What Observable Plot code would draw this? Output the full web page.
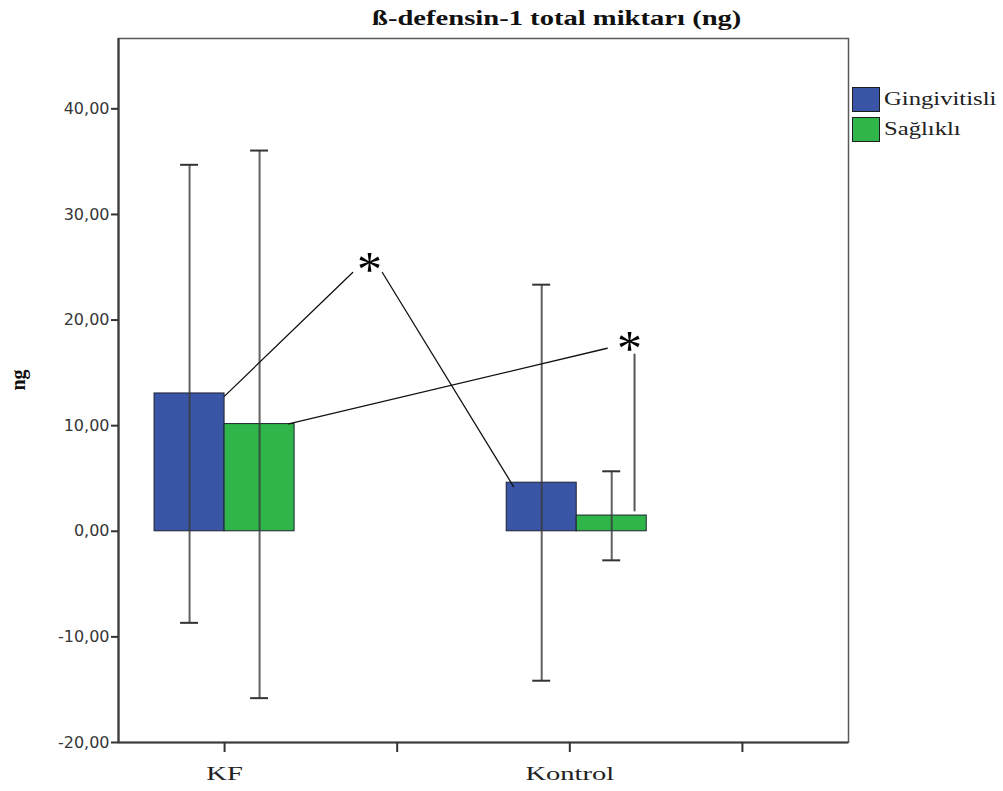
<!DOCTYPE html>
<html>
<head>
<meta charset="utf-8">
<script src="https://cdn.jsdelivr.net/npm/d3@7"></script>
<script src="https://cdn.jsdelivr.net/npm/@observablehq/plot@0.6"></script>
<style>
  body { margin: 0; background: #fff; }
  #wrap { position: relative; width: 1003px; height: 791px; overflow: hidden; background: #fff; }
  #wrap svg { position: absolute; left: 0; top: 0; }
  .title { position: absolute; left: 372px; top: 7px; font: bold 20px "Liberation Serif", serif; color: #111;
           white-space: nowrap; transform-origin: left top; transform: scaleX(1.43); }
  .legend { position: absolute; left: 852px; top: 84px; }
  .item { display: flex; align-items: center; height: 30px; }
  .sw { width: 28px; height: 25px; border: 1.5px solid #1d1d1d; box-sizing: border-box; }
  .lab { font: 18px "Liberation Serif", serif; color: #222; margin-left: 4px; white-space: nowrap;
         transform-origin: left center; transform: scaleX(1.37); }
</style>
</head>
<body>
<div id="wrap"></div>
<script>
// Group labels along the x axis (blank slots keep the unlabeled ticks)
const tickLabels = ["KF", "", "Kontrol", ""];
const categories = ["KF", "Kontrol"];
const groups = ["Gingivitisli", "Sağlıklı"];
const colors = ["#3b55a6", "#2fb549"];

// Means and error-bar limits (ng)
const gingivitisliMean = [13.05, 4.60];
const gingivitisliLow  = [-8.67, -14.15];
const gingivitisliHigh = [34.70, 23.35];
const saglikliMean = [10.15, 1.49];
const saglikliLow  = [-15.80, -2.75];
const saglikliHigh = [36.05, 5.68];

const yTicks = [-20, -10, 0, 10, 20, 30, 40];

// Significance annotations (x in tick units, y in ng)
const sigLines = [
  [[0.0, 12.8], [0.742, 24.5]],
  [[0.914, 24.5], [1.674, 4.23]],
  [[0.371, 10.17], [2.217, 17.33]]
];
const sigStars = [[0.84, 25.35], [2.346, 17.87]];
const sigStem = [[2.375, 16.73], [2.375, 1.96]];

// layout of the clustered bars, in tick units
const groupCenter = {KF: 0, Kontrol: 2.04};
const barWidth = 0.4056;
const capHalf = 0.052;
const xDomain = [-0.6145, 3.6145];
const yDomain = [-20, 46.66];

const series = [
  {mean: gingivitisliMean, low: gingivitisliLow, high: gingivitisliHigh},
  {mean: saglikliMean, low: saglikliLow, high: saglikliHigh}
];
const rows = [];
categories.forEach((cat, ci) => {
  const pos = groupCenter[cat];
  groups.forEach((g, si) => {
    rows.push({
      cat, group: g, color: colors[si],
      x1: pos + (si - 1) * barWidth,
      x2: pos + si * barWidth,
      xc: pos + (si - 0.5) * barWidth,
      mean: series[si].mean[ci],
      low: series[si].low[ci],
      high: series[si].high[ci]
    });
  });
});

const chart = Plot.plot({
  width: 1003,
  height: 791,
  marginLeft: 118,
  marginRight: 155,
  marginTop: 38,
  marginBottom: 49,
  x: {domain: xDomain, label: null},
  y: {domain: yDomain, label: null},
  style: {background: "#fff", overflow: "visible"},
  marks: [
    Plot.frame({stroke: "#5a5a5a", strokeWidth: 1.5}),
    Plot.rectY(rows, {x1: "x1", x2: "x2", y1: 0, y2: "mean", fill: "color", stroke: "#1c2230", strokeWidth: 1}),
    Plot.ruleX(rows, {x: "xc", y1: "low", y2: "high", stroke: "#3a3a3a", strokeOpacity: 0.8, strokeWidth: 2}),
    Plot.ruleY(rows, {y: "high", x1: d => d.xc - capHalf, x2: d => d.xc + capHalf, stroke: "#333", strokeWidth: 2}),
    Plot.ruleY(rows, {y: "low", x1: d => d.xc - capHalf, x2: d => d.xc + capHalf, stroke: "#333", strokeWidth: 2}),
    ...sigLines.map(seg => Plot.line(seg, {x: d => d[0], y: d => d[1], stroke: "#111", strokeWidth: 1.3})),
    Plot.line(sigStem, {x: d => d[0], y: d => d[1], stroke: "#555", strokeWidth: 2}),
    Plot.text(sigStars, {x: d => d[0], y: d => d[1], text: () => "*", fontSize: 50, fontFamily: "Liberation Serif", fill: "#000", dy: 6}),
    Plot.ruleX([xDomain[0]], {stroke: "#3c3c3c", strokeWidth: 2.2}),
    Plot.ruleY([yDomain[0]], {stroke: "#3c3c3c", strokeWidth: 2.2}),
    Plot.axisY({ticks: yTicks, tickFormat: d => d.toFixed(2).replace(".", ","), tickSize: 7, tickPadding: 2, stroke: "#333", strokeWidth: 2, label: null}),
    Plot.axisX({ticks: [0, 1, 2, 3], tickFormat: i => tickLabels[i], tickSize: 10, tickPadding: 14, stroke: "#333", strokeWidth: 2, label: null}),
    Plot.text(["ng"], {frameAnchor: "left", dx: -100, rotate: -90, fontSize: 20, fontWeight: "bold", fontFamily: "Liberation Serif", fill: "#111"})
  ]
});

const wrap = document.getElementById("wrap");
wrap.appendChild(chart);

const svg = d3.select(chart);
svg.selectAll('[aria-label="y-axis tick label"] text')
  .attr("font-family", "DejaVu Sans").attr("font-size", 16).attr("fill", "#363636");
svg.selectAll('[aria-label="x-axis tick label"] text')
  .attr("font-family", "Liberation Serif").attr("font-size", 19).attr("fill", "#222");
// widen the serif group labels
svg.selectAll('[aria-label="x-axis tick label"] text').each(function () {
  const len = this.getComputedTextLength();
  if (len > 0) {
    this.setAttribute("textLength", len * 1.5);
    this.setAttribute("lengthAdjust", "spacingAndGlyphs");
  }
});

// title
const title = document.createElement("div");
title.className = "title";
title.textContent = "ß-defensin-1 total miktarı (ng)";
wrap.appendChild(title);

// legend
const legend = document.createElement("div");
legend.className = "legend";
groups.forEach((g, i) => {
  const item = document.createElement("div");
  item.className = "item";
  const sw = document.createElement("div");
  sw.className = "sw";
  sw.style.background = colors[i];
  const lab = document.createElement("span");
  lab.className = "lab";
  lab.textContent = g;
  item.appendChild(sw);
  item.appendChild(lab);
  legend.appendChild(item);
});
wrap.appendChild(legend);
</script>
</body>
</html>
